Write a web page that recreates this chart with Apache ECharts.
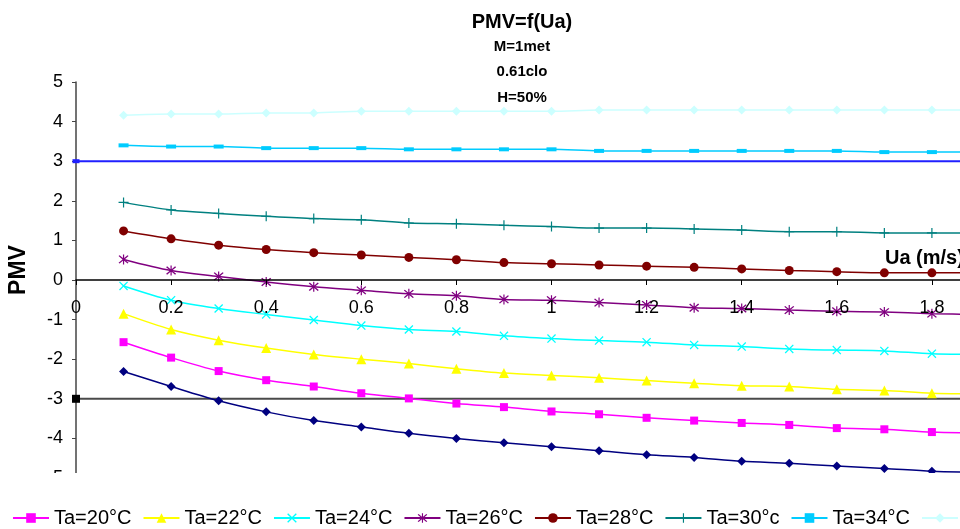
<!DOCTYPE html>
<html>
<head>
<meta charset="utf-8">
<script src="https://cdn.jsdelivr.net/npm/echarts@6/dist/echarts.min.js"></script>
<style>
  html, body { margin: 0; padding: 0; background: #fff; }
  #chart { width: 960px; height: 529px; }
</style>
</head>
<body>
<div id="chart"></div>
<script>
// Air speed Ua (m/s) at which PMV was computed
const ua = [0.1, 0.2, 0.3, 0.4, 0.5, 0.6, 0.7, 0.8, 0.9, 1.0, 1.1, 1.2, 1.3, 1.4, 1.5, 1.6, 1.7, 1.8, 1.9];

// PMV per air temperature
const ta18 = [-2.31, -2.69, -3.05, -3.33, -3.55, -3.71, -3.87, -4.00, -4.11, -4.21, -4.31, -4.41, -4.48, -4.58, -4.63, -4.70, -4.76, -4.83, -4.86];
const ta20 = [-1.57, -1.96, -2.30, -2.53, -2.69, -2.86, -2.99, -3.12, -3.21, -3.32, -3.39, -3.48, -3.55, -3.61, -3.66, -3.74, -3.77, -3.84, -3.87];
const ta22 = [-0.85, -1.25, -1.52, -1.72, -1.88, -2.00, -2.11, -2.24, -2.35, -2.41, -2.47, -2.54, -2.61, -2.67, -2.69, -2.76, -2.79, -2.86, -2.88];
const ta24 = [-0.15, -0.51, -0.72, -0.87, -1.01, -1.15, -1.25, -1.30, -1.41, -1.48, -1.53, -1.57, -1.64, -1.68, -1.74, -1.77, -1.79, -1.86, -1.88];
const ta26 = [0.52, 0.24, 0.09, -0.05, -0.17, -0.26, -0.35, -0.40, -0.49, -0.51, -0.57, -0.63, -0.70, -0.72, -0.76, -0.79, -0.81, -0.85, -0.87];
const ta28 = [1.24, 1.04, 0.88, 0.77, 0.69, 0.63, 0.57, 0.51, 0.44, 0.41, 0.38, 0.35, 0.32, 0.28, 0.24, 0.21, 0.18, 0.18, 0.18];
const ta30 = [1.96, 1.77, 1.68, 1.61, 1.55, 1.52, 1.44, 1.42, 1.38, 1.35, 1.31, 1.31, 1.29, 1.26, 1.22, 1.22, 1.19, 1.19, 1.19];
const ta34 = [3.40, 3.37, 3.37, 3.33, 3.33, 3.33, 3.30, 3.30, 3.30, 3.30, 3.26, 3.26, 3.26, 3.26, 3.26, 3.26, 3.23, 3.23, 3.23];
const ta36 = [4.16, 4.19, 4.19, 4.22, 4.22, 4.26, 4.26, 4.26, 4.26, 4.26, 4.29, 4.29, 4.29, 4.29, 4.29, 4.29, 4.29, 4.29, 4.29];

// Comfort limits PMV = +3 / -3
const limitUa = [0, 2];
const limitHot = [3, 3];
const limitCold = [-3, -3];

const seriesNames = ['Ta=20°C', 'Ta=22°C', 'Ta=24°C', 'Ta=26°C', 'Ta=28°C', 'Ta=30°c', 'Ta=34°C', 'Ta=36°C'];

// Stroke-like marker outlines
const SYM_X = 'path://M0,1L1,0L5,4L9,0L10,1L6,5L10,9L9,10L5,6L1,10L0,9L4,5Z';
const SYM_STAR = 'path://M0,1L1,0L5,4L9,0L10,1L6,5L10,9L9,10L5,6L1,10L0,9L4,5Z M4.4,-1L5.6,-1L5.6,11L4.4,11Z';
const SYM_PLUS = 'path://M4.4,0H5.6V4.4H10V5.6H5.6V10H4.4V5.6H0V4.4H4.4Z';

const FONT = 'Liberation Sans, Arial, sans-serif';

// Plot area geometry: PMV runs from -5 to +5, so the Ua axis sits half-way up
const GRID_TOP = 82;
const GRID_HEIGHT = 396;

function pairs(xs, ys) {
  return xs.map((x, i) => [x, ys[i]]);
}

function curve(name, values, color, symbol, size) {
  return {
    name: name,
    type: 'line',
    data: pairs(ua, values),
    smooth: 0.3,
    symbol: symbol,
    symbolSize: size,
    showAllSymbol: true,
    lineStyle: { color: color, width: 1.5 },
    itemStyle: { color: color },
    emphasis: { disabled: true },
    z: 3
  };
}

const chart = echarts.init(document.getElementById('chart'), null, { renderer: 'canvas' });

chart.setOption({
  animation: false,
  backgroundColor: '#ffffff',
  textStyle: { fontFamily: FONT },
  title: {
    text: 'PMV=f(Ua)',
    subtext: 'M=1met\n0.61clo\nH=50%',
    left: 517,
    top: 7,
    textAlign: 'center',
    itemGap: 2,
    textStyle: { fontFamily: FONT, fontSize: 20, fontWeight: 'bold', color: '#000' },
    subtextStyle: { fontFamily: FONT, fontSize: 15, fontWeight: 'bold', color: '#000', lineHeight: 25.5 }
  },
  legend: {
    data: seriesNames,
    left: 7,
    top: 503,
    width: 1400,
    itemWidth: 36,
    itemHeight: 12,
    itemGap: 11,
    z: 20,
    textStyle: { fontFamily: FONT, fontSize: 20, color: '#000' }
  },
  grid: { left: 76, top: GRID_TOP, width: 951, height: GRID_HEIGHT, containLabel: false, outerBoundsMode: 'none' },
  xAxis: {
    type: 'value',
    min: 0,
    max: 2,
    interval: 0.2,
    position: 'bottom',
    offset: -GRID_HEIGHT / 2,
    axisLine: { onZero: false, lineStyle: { color: '#000', width: 1.5 } },
    axisTick: { show: true, inside: false, length: 5, lineStyle: { color: '#000' } },
    axisLabel: { show: true, margin: 19, fontSize: 18, color: '#000', fontFamily: FONT, hideOverlap: false },
    splitLine: { show: false },
    z: 4
  },
  yAxis: {
    type: 'value',
    min: -5,
    max: 5,
    interval: 1,
    axisLine: { show: true, lineStyle: { color: '#444', width: 1.5 } },
    axisTick: { show: true, inside: false, length: 4, lineStyle: { color: '#444' } },
    axisLabel: { margin: 13, fontSize: 18, color: '#000', fontFamily: FONT },
    splitLine: { show: false }
  },
  graphic: [
    {
      type: 'rect',
      shape: { x: 0, y: 473, width: 960, height: 56 },
      style: { fill: '#ffffff' },
      z: 10,
      silent: true
    },
    {
      type: 'text',
      x: 19, y: 270,
      rotation: Math.PI / 2,
      style: { text: 'PMV', font: 'bold 23px ' + FONT, fill: '#000', align: 'center', verticalAlign: 'middle' },
      z: 12
    },
    {
      type: 'text',
      x: 885, y: 258,
      style: { text: 'Ua (m/s)', font: 'bold 20px ' + FONT, fill: '#000', align: 'left', verticalAlign: 'middle' },
      z: 12
    }
  ],
  series: [
    curve('Ta=18°C', ta18, '#000080', 'diamond', 9),
    curve('Ta=20°C', ta20, '#ff00ff', 'rect', 8),
    curve('Ta=22°C', ta22, '#ffff00', 'triangle', 10),
    curve('Ta=24°C', ta24, '#00ffff', SYM_X, 9),
    curve('Ta=26°C', ta26, '#800080', SYM_STAR, 10),
    curve('Ta=28°C', ta28, '#800000', 'circle', 9),
    curve('Ta=30°c', ta30, '#008080', SYM_PLUS, 10),
    curve('Ta=34°C', ta34, '#00ccff', 'rect', [10, 4]),
    curve('Ta=36°C', ta36, '#ccffff', 'diamond', 9),
    {
      name: 'PMV=+3',
      type: 'line',
      data: pairs(limitUa, limitHot),
      symbol: 'rect',
      symbolSize: [7, 4],
      lineStyle: { color: '#2020ff', width: 2 },
      itemStyle: { color: '#2020ff' },
      emphasis: { disabled: true },
      z: 2
    },
    {
      name: 'PMV=-3',
      type: 'line',
      data: pairs(limitUa, limitCold),
      symbol: 'rect',
      symbolSize: 8,
      lineStyle: { color: '#4a4a4a', width: 2 },
      itemStyle: { color: '#000' },
      emphasis: { disabled: true },
      z: 2
    }
  ]
});
</script>
</body>
</html>
